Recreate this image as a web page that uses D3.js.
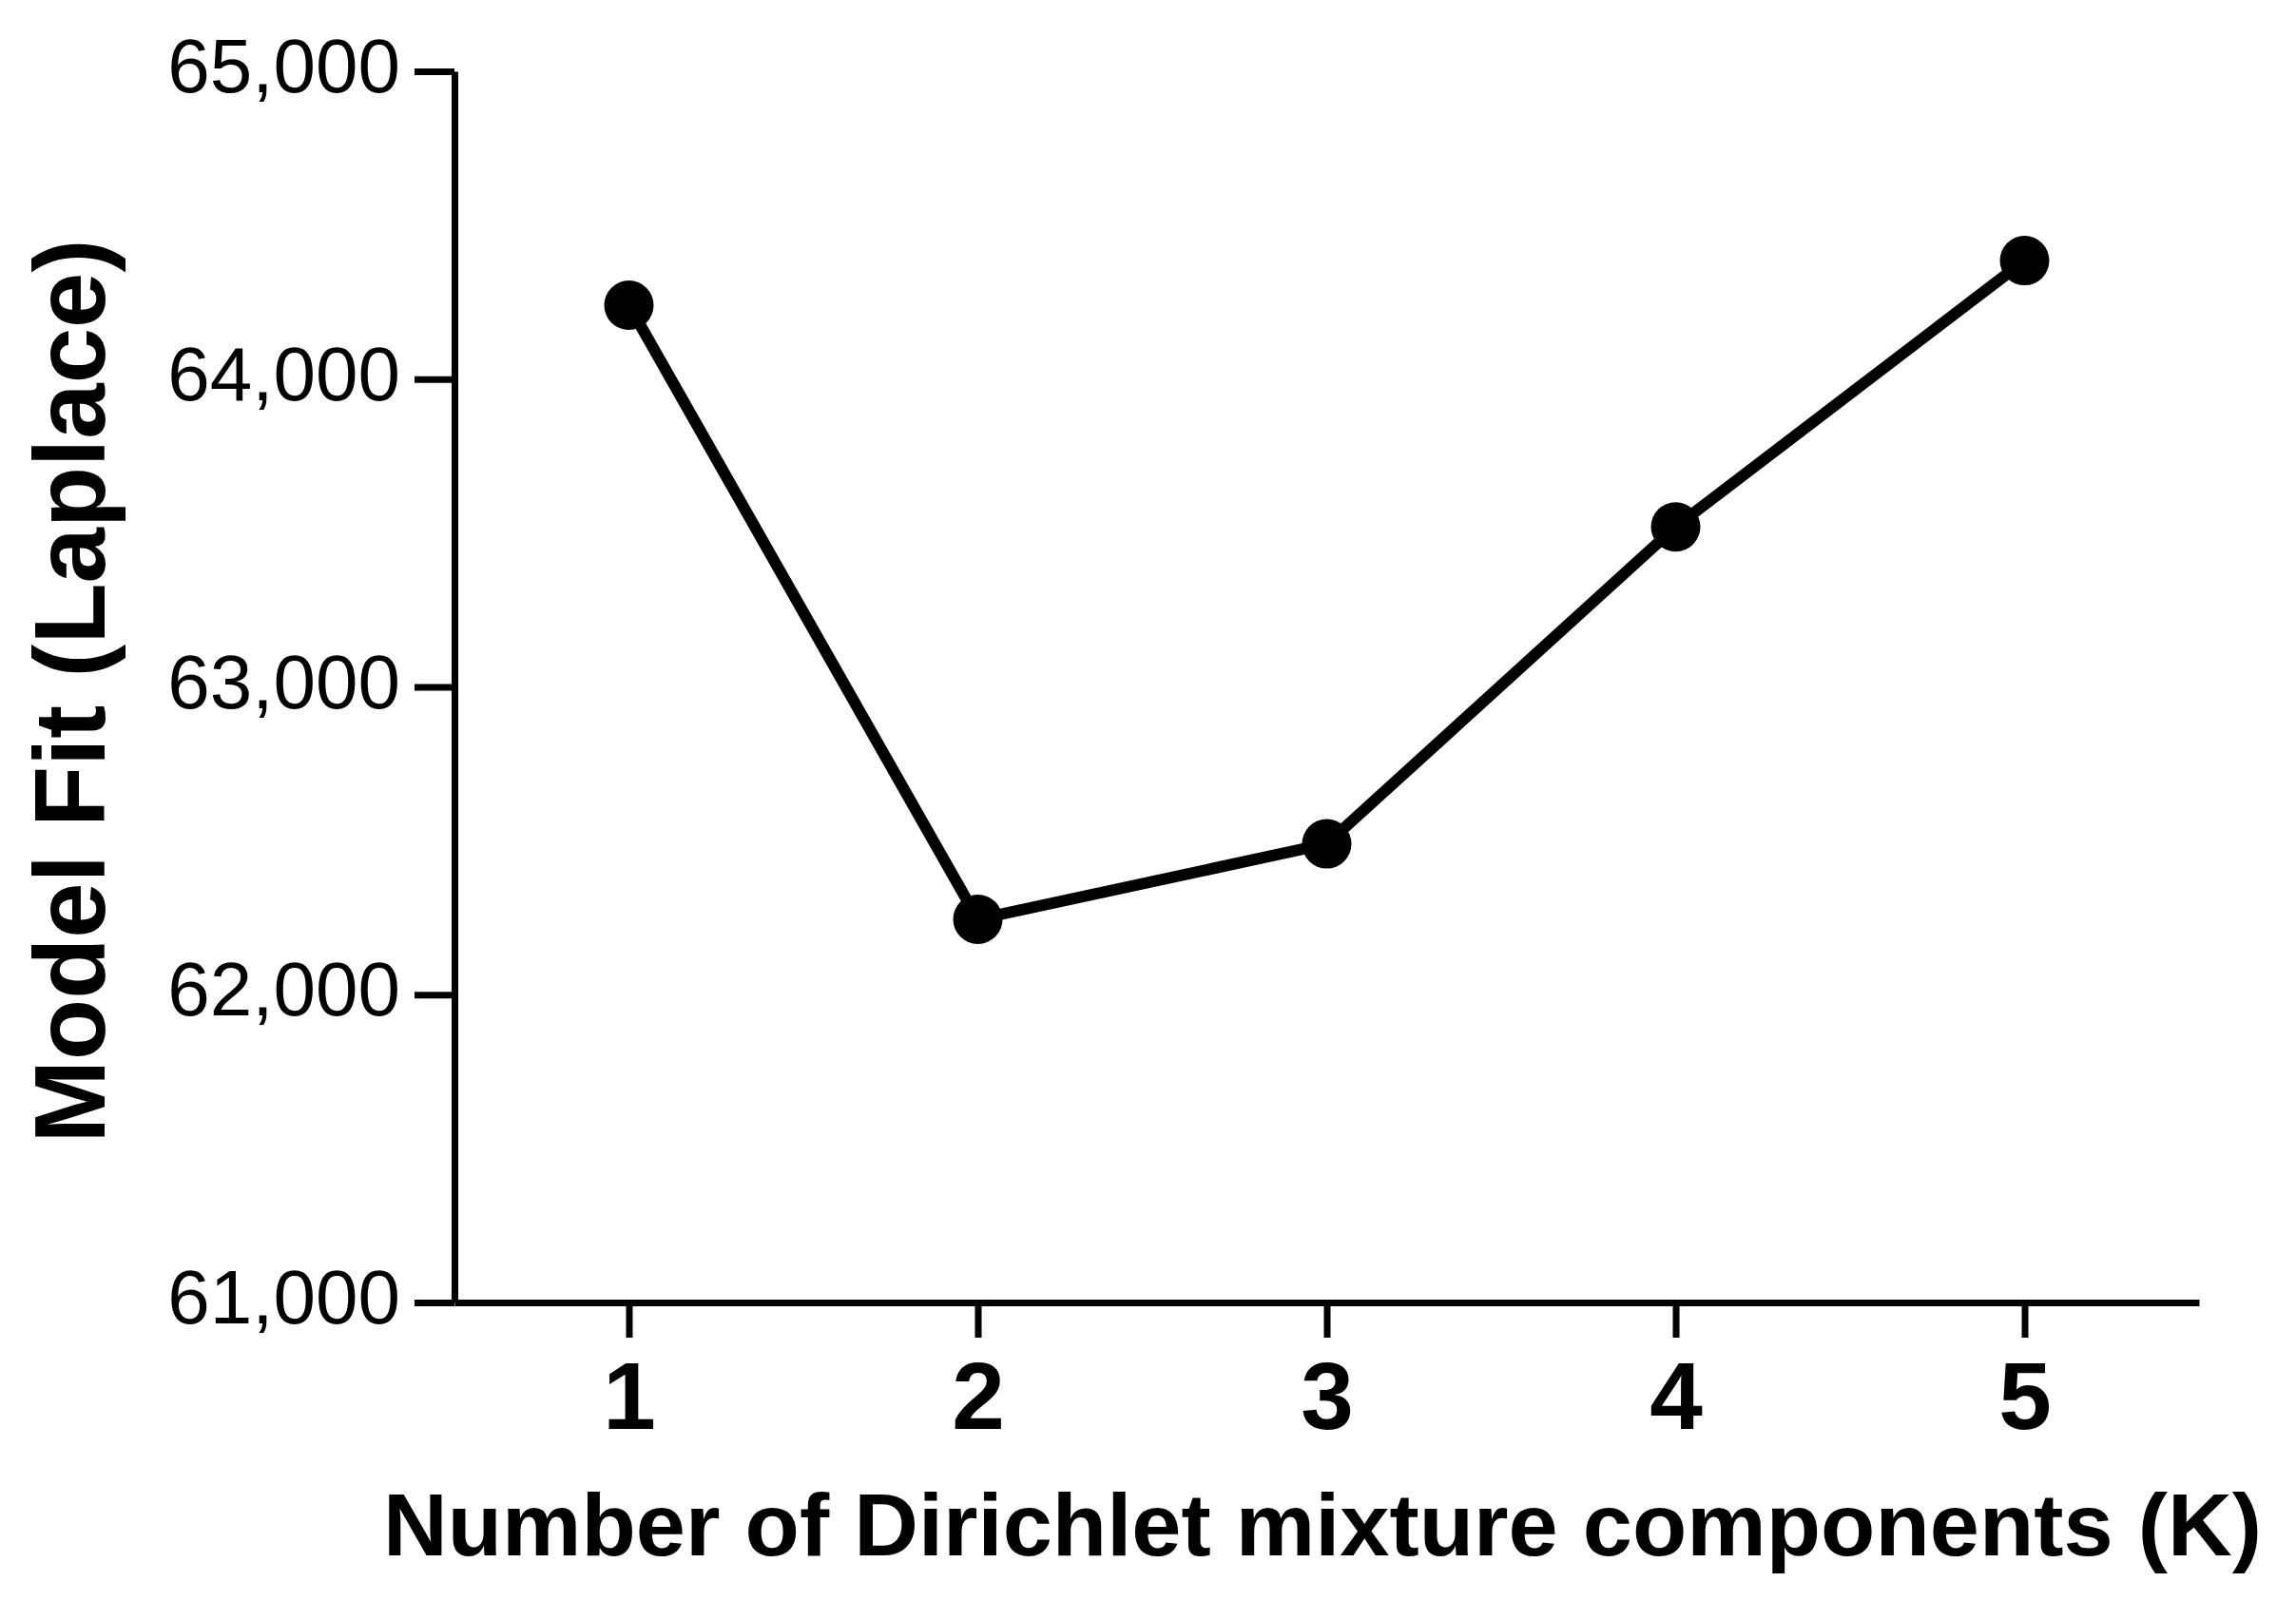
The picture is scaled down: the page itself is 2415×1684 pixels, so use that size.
<!DOCTYPE html>
<html>
<head>
<meta charset="utf-8">
<script src="https://cdn.jsdelivr.net/npm/d3@7"></script>
<style>
  html, body { margin: 0; padding: 0; background: #fff; }
  svg { display: block; }
  text { font-family: "Liberation Sans", Arial, sans-serif; fill: #000; }
</style>
</head>
<body>
<svg id="chart" width="2415" height="1684"></svg>
<script>
// Data
const components = [1, 2, 3, 4, 5];
const modelFit = [64240, 62245, 62490, 63520, 64385];
const yTicks = [61000, 62000, 63000, 64000, 65000];
const xTicks = [1, 2, 3, 4, 5];
const xTitle = "Number of Dirichlet mixture components (K)";
const yTitle = "Model Fit (Laplace)";

const svg = d3.select("#chart");

const x = d3.scaleLinear().domain([0.5, 5.5]).range([478, 2313]);
const y = d3.scaleLinear().domain([61000, 65000]).range([1370, 75]);

const fmt = d3.format(",");

// Y axis
const yAxis = svg.append("g")
  .attr("transform", `translate(${x(0.5)},0)`)
  .call(d3.axisLeft(y).tickValues(yTicks).tickFormat(fmt).tickSize(42).tickSizeOuter(0).tickPadding(15));
yAxis.select(".domain").attr("stroke", "#000").attr("stroke-width", 7);
yAxis.selectAll(".tick line").attr("stroke", "#000").attr("stroke-width", 7);
yAxis.selectAll(".tick text")
  .attr("font-size", 80)
  .attr("font-family", "Liberation Sans, Arial, sans-serif")
  .attr("dy", "0.27em")
  .attr("fill", "#000");

// X axis
const xAxis = svg.append("g")
  .attr("transform", `translate(0,${y(61000)})`)
  .call(d3.axisBottom(x).tickValues(xTicks).tickFormat(d3.format("d")).tickSize(37).tickSizeOuter(0).tickPadding(25));
xAxis.select(".domain").attr("stroke", "#000").attr("stroke-width", 7);
xAxis.selectAll(".tick line").attr("stroke", "#000").attr("stroke-width", 7);
xAxis.selectAll(".tick text")
  .attr("font-size", 100)
  .attr("font-weight", "bold")
  .attr("font-family", "Liberation Sans, Arial, sans-serif")
  .attr("fill", "#000");

// Line
const pts = components.map((c, i) => [c, modelFit[i]]);
svg.append("path")
  .datum(pts)
  .attr("fill", "none")
  .attr("stroke", "#000")
  .attr("stroke-width", 12)
  .attr("stroke-linejoin", "round")
  .attr("d", d3.line().x(d => x(d[0])).y(d => y(d[1])));

svg.append("g").selectAll("circle")
  .data(pts)
  .join("circle")
  .attr("cx", d => x(d[0]))
  .attr("cy", d => y(d[1]))
  .attr("r", 26)
  .attr("fill", "#000");

// Axis titles
svg.append("text")
  .attr("x", 1391)
  .attr("y", 1636)
  .attr("text-anchor", "middle")
  .attr("font-size", 92)
  .attr("font-weight", "bold")
  .attr("textLength", 1976)
  .attr("lengthAdjust", "spacingAndGlyphs")
  .text(xTitle);

svg.append("text")
  .attr("transform", "translate(110,727) rotate(-90)")
  .attr("text-anchor", "middle")
  .attr("font-size", 105)
  .attr("font-weight", "bold")
  .text(yTitle);
</script>
</body>
</html>
